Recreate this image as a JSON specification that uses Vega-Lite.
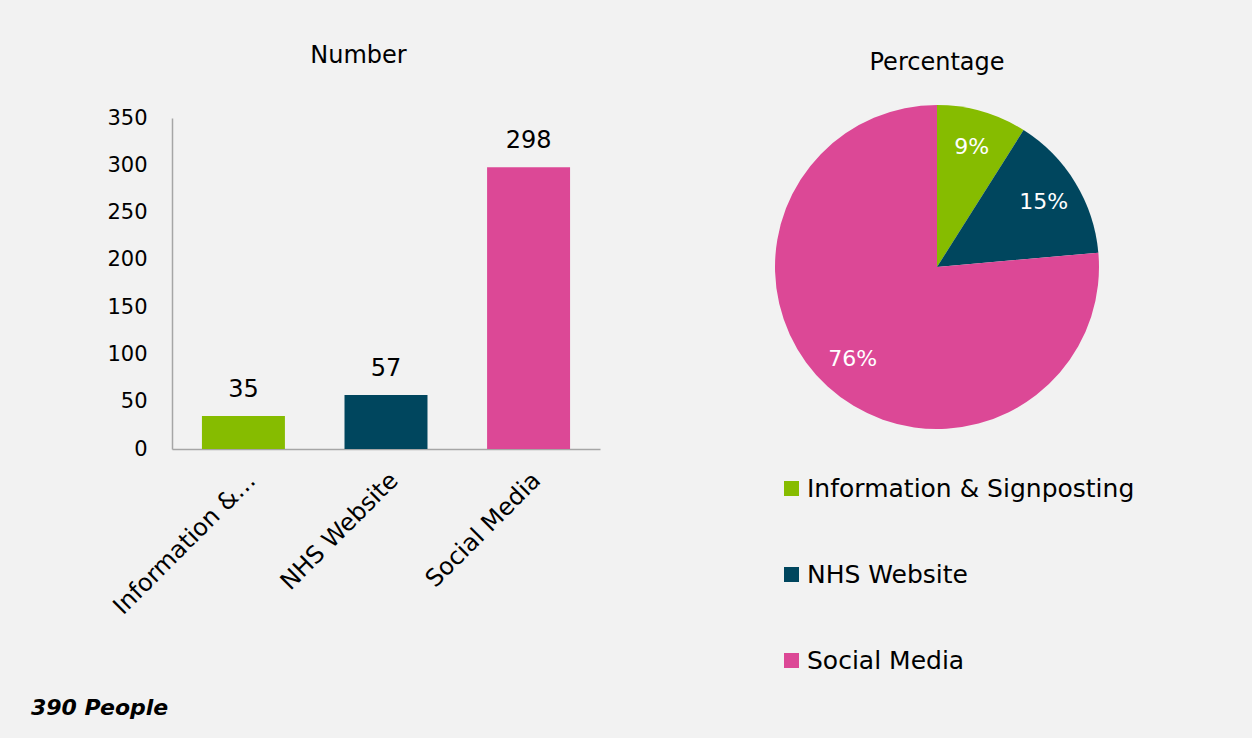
{
  "$schema": "https://vega.github.io/schema/vega-lite/v6.json",
  "background": "#f2f2f2",
  "padding": {"left": 30, "top": 44, "right": 120, "bottom": 19},
  "datasets": {
    "src": [
      {"source": "Information & Signposting", "count": 35, "pct": "9%"},
      {"source": "NHS Website", "count": 57, "pct": "15%"},
      {"source": "Social Media", "count": 298, "pct": "76%"}
    ]
  },
  "title": {
    "text": "390 People",
    "orient": "bottom",
    "anchor": "start",
    "frame": "bounds",
    "dx": -76,
    "offset": 20,
    "fontSize": 22,
    "fontWeight": "bold",
    "fontStyle": "italic",
    "color": "#000000",
    "font": "DejaVu Sans"
  },
  "spacing": 175,
  "resolve": {"scale": {"color": "independent"}, "legend": {"color": "independent"}},
  "hconcat": [
    {
      "width": 428,
      "height": 331,
      "data": {"name": "src"},
      "title": {"text": "Number", "fontSize": 24, "fontWeight": "normal", "color": "#000000", "offset": 39, "anchor": "middle", "frame": "bounds", "dx": 5},
      "encoding": {
        "x": {
          "field": "source", "type": "nominal", "sort": null,
          "scale": {"paddingInner": 0.418, "paddingOuter": 0.21},
          "axis": {
            "title": null, "labelAngle": -45, "labelFontSize": 24, "labelColor": "#000000",
            "ticks": false, "labelPadding": 19, "domainColor": "#a6a6a6", "domainWidth": 1.5,
            "labelLimit": 400,
            "labelExpr": "datum.label == 'Information & Signposting' ? 'Information &…' : datum.label"
          }
        },
        "y": {
          "field": "count", "type": "quantitative",
          "scale": {"domain": [0, 350], "nice": false},
          "axis": {
            "title": null, "grid": false, "ticks": false, "labelFontSize": 21, "labelColor": "#000000",
            "labelPadding": 25, "values": [0, 50, 100, 150, 200, 250, 300, 350],
            "domainColor": "#a6a6a6", "domainWidth": 1.5
          }
        }
      },
      "layer": [
        {
          "mark": {"type": "bar"},
          "encoding": {
            "color": {
              "field": "source", "type": "nominal", "legend": null,
              "scale": {"domain": ["Information & Signposting", "NHS Website", "Social Media"], "range": ["#86bc00", "#00465e", "#dc4896"]}
            }
          }
        },
        {
          "mark": {"type": "text", "baseline": "alphabetic", "dy": -19, "fontSize": 24, "color": "#000000"},
          "encoding": {"text": {"field": "count", "type": "quantitative"}}
        }
      ]
    },
    {
      "width": 324,
      "height": 298,
      "data": {"name": "src"},
      "title": {"text": "Percentage", "fontSize": 24, "fontWeight": "normal", "color": "#000000", "offset": 30, "anchor": "middle", "frame": "group"},
      "encoding": {
        "theta": {"field": "count", "type": "quantitative", "stack": true},
        "order": {"field": "count", "type": "quantitative", "sort": "ascending"}
      },
      "layer": [
        {
          "mark": {"type": "arc", "radius": 162},
          "encoding": {
            "color": {
              "field": "source", "type": "nominal", "sort": null,
              "scale": {"domain": ["Information & Signposting", "NHS Website", "Social Media"], "range": ["#86bc00", "#00465e", "#dc4896"]},
              "legend": {
                "title": null, "orient": "bottom", "direction": "vertical", "symbolType": "square",
                "symbolSize": 225, "labelFontSize": 25, "labelColor": "#000000", "labelOffset": 3,
                "padding": 4, "rowPadding": 60, "offset": 56, "labelLimit": 400
              }
            }
          }
        },
        {
          "mark": {"type": "text", "radius": 125, "fontSize": 22, "color": "#ffffff"},
          "encoding": {
            "text": {"field": "pct", "type": "nominal"}
          }
        }
      ]
    }
  ],
  "config": {
    "font": "DejaVu Sans",
    "view": {"stroke": null}
  }
}
